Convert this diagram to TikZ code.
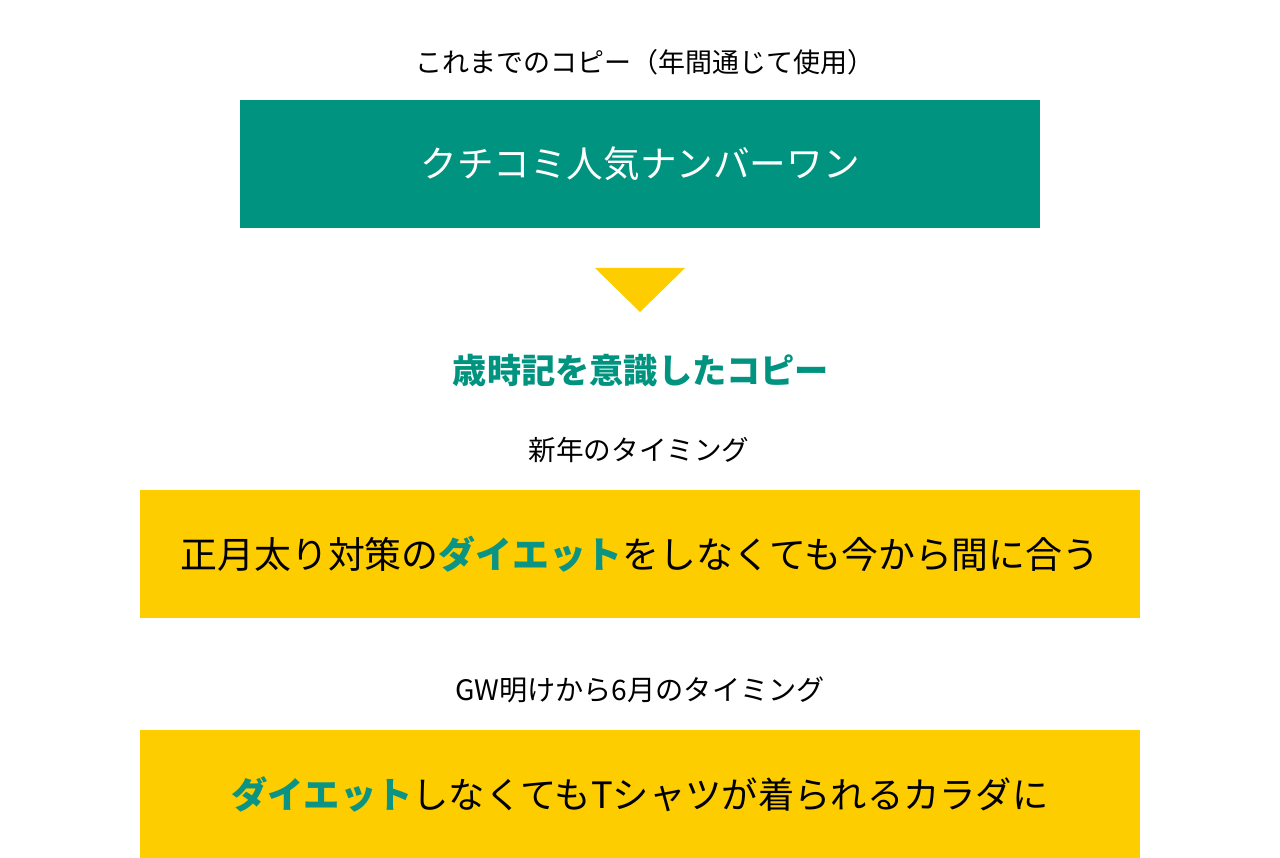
\documentclass[tikz,border=0pt]{standalone}
\usepackage{fontspec}
\setmainfont{Noto Sans CJK JP}
\definecolor{brandgreen}{HTML}{009480}
\definecolor{brandyellow}{HTML}{FECD00}
\definecolor{textgreen}{HTML}{0B9484}
\begin{document}
\begin{tikzpicture}[x=1pt,y=-1pt,
  lbl/.style={inner sep=0pt,text=black},
  greenbox/.style={fill=brandgreen,minimum width=800pt,minimum height=128pt,inner sep=0pt,text=white},
  yellowbox/.style={fill=brandyellow,minimum width=1000pt,minimum height=128pt,inner sep=0pt,text=black},
]
\useasboundingbox (0,0) rectangle (1280,858);
\fill[white] (0,0) rectangle (1280,858);
\node[lbl,font=\fontsize{27}{31}\selectfont] (prev) at (645,62) {これまでのコピー（年間通じて使用）};
\node[greenbox,font=\fontsize{36.6}{40}\selectfont] (old) at (640,164) {クチコミ人気ナンバーワン};
\fill[brandyellow] (595,268) -- (685,268) -- (640,312) -- cycle;
\node[lbl,text=brandgreen,font=\fontsize{34.2}{38}\selectfont\bfseries] (title) at (641,371) {歳時記を意識したコピー};
\node[lbl,font=\fontsize{27.6}{31}\selectfont] (t1) at (639,450) {新年のタイミング};
\node[yellowbox,font=\fontsize{36.9}{42}\selectfont] (c1) at (640,554) {正月太り対策の{\color{textgreen}\bfseries ダイエット}をしなくても今から間に合う};
\node[lbl,font=\fontsize{28.2}{32}\selectfont] (t2) at (640,690) {GW明けから6月のタイミング};
\node[yellowbox,font=\fontsize{36.3}{42}\selectfont] (c2) at (640,794) {{\color{textgreen}\bfseries ダイエット}しなくてもTシャツが着られるカラダに};
\end{tikzpicture}
\end{document}
